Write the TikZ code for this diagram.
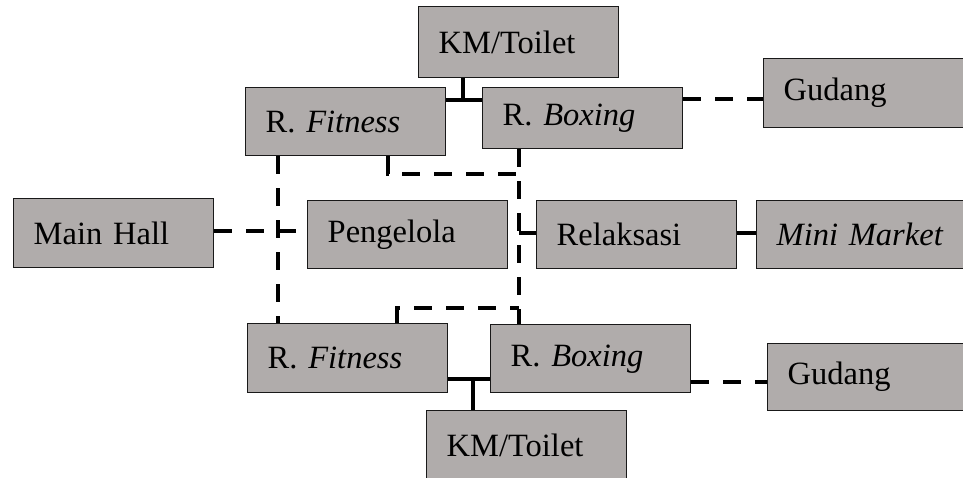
\documentclass[tikz,border=0pt]{standalone}
\usepackage{fontspec}
\setmainfont{Liberation Serif}
\usepackage{tikz}
\definecolor{boxgray}{RGB}{176,172,171}
\tikzset{
  room/.style={draw=black!90, fill=boxgray, line width=1.4pt, anchor=north west,
    minimum width=200pt, minimum height=68pt, text width=160pt,
    inner xsep=20pt, inner ysep=0pt, font=\fontsize{32.5}{36}\selectfont},
  link/.style={line width=3.5pt},
  dlink/.style={line width=3.5pt, dash pattern=on 18pt off 14pt}
}

\begin{document}
\begin{tikzpicture}[x=1pt,y=-1pt]
            \clip (0,0) rectangle (963,477);
            \node[room,minimum height=71pt](kmA) at (418,6) {KM/Toilet};
            \node[room](fitA) at (245,87) {R. \textit{Fitness}};
            \node[room,minimum height=61pt](boxA) at (482,87) {R. \textit{Boxing}};
            \node[room,minimum height=69pt](gudA) at (763,58) {Gudang};
            \node[room,minimum height=69pt](hall) at (13,198) {Main Hall};
            \node[room](pgl) at (307,200) {Pengelola};
            \node[room](rlx) at (536,200) {Relaksasi};
            \node[room,minimum width=207pt,text width=167pt](mini) at (756,200) {\textit{Mini Market}};
            \node[room,minimum height=69pt](fitB) at (247,323) {R. \textit{Fitness}};
            \node[room](boxB) at (490,324) {R. \textit{Boxing}};
            \node[room,minimum height=67pt](gudB) at (767,343) {Gudang};
            \node[room,minimum height=70pt](kmB) at (426,410) {KM/Toilet};
            \coordinate (jA) at (463,100);
            \coordinate (gA) at (700,99);
            \coordinate (tA) at (388,174);
            \coordinate (vB) at (519,174);
            \coordinate (vL) at (278,231);
            \coordinate (r1) at (519,233);
            \coordinate (tB) at (397,308);
            \coordinate (jB) at (473,379);
            \coordinate (gB) at (700,382);
            \draw[link] (kmA.south -| jA) -- (jA);
            \draw[link] (fitA.east |- jA) -- (boxA.west |- jA);
            \draw[dlink] (boxA.east |- gA) -- (gudA.west |- gA);
            \draw[dlink] (fitA.south -| tA) -- (tA) -- (vB);
            \draw[dlink] (boxA.south -| vB) -- (boxB.north -| vB);
            \draw[dlink] (fitA.south -| vL) -- (fitB.north -| vL);
            \draw[dlink] (hall.east |- vL) -- (pgl.west |- vL);
            \draw[link] (r1) -- (rlx.west |- r1);
            \draw[link] (rlx.east |- r1) -- (mini.west |- r1);
            \draw[dlink] (fitB.north -| tB) -- (tB) -- (vB |- tB);
            \draw[link] (fitB.east |- jB) -- (boxB.west |- jB);
            \draw[link] (jB) -- (kmB.north -| jB);
            \draw[dlink] (boxB.east |- gB) -- (gudB.west |- gB);
        \end{tikzpicture}
\end{document}
